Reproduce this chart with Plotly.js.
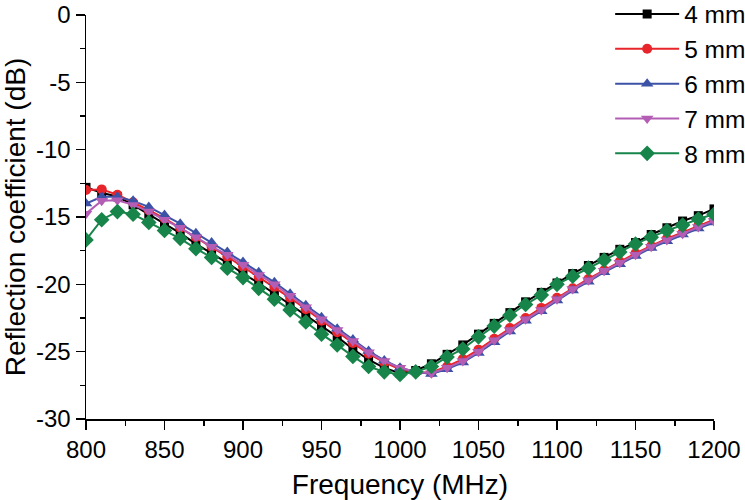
<!DOCTYPE html>
<html>
<head>
<meta charset="utf-8">
<script src="https://cdn.plot.ly/plotly-3.0.1.min.js"></script>
<style>
  body { margin: 0; background: #fff; }
  #chart { width: 745px; height: 500px; }
</style>
</head>
<body>
<div id="chart"></div>
<script>
// series colours
const black = "#000000";
const red = "#E8252A";
const blue = "#3C52A6";
const magenta = "#B45DB4";
const green = "#17844A";

// frequency points (MHz)
const freq = [800, 810, 820, 830, 840, 850, 860, 870, 880, 890,
              900, 910, 920, 930, 940, 950, 960, 970, 980, 990,
              1000, 1010, 1020, 1030, 1040, 1050, 1060, 1070, 1080, 1090,
              1100, 1110, 1120, 1130, 1140, 1150, 1160, 1170, 1180, 1190, 1200];

// reflection coefficient (dB) for each gap
const s4mm = [-12.8, -13.2, -13.5, -14.1, -14.8, -15.5, -16.2, -17.0, -17.7, -18.4,
              -19.2, -19.9, -20.7, -21.5, -22.3, -23.1, -23.9, -24.8, -25.6, -26.2,
              -26.6, -26.4, -25.9, -25.2, -24.5, -23.7, -22.9, -22.1, -21.3, -20.6,
              -19.9, -19.2, -18.6, -18.0, -17.4, -16.9, -16.3, -15.8, -15.3, -14.9, -14.4];
const s5mm = [-13.0, -12.95, -13.35, -13.9, -14.5, -15.1, -15.8, -16.5, -17.2, -17.95,
              -18.7, -19.45, -20.2, -21.0, -21.85, -22.7, -23.55, -24.35, -25.15, -25.8,
              -26.3, -26.55, -26.55, -26.1, -25.55, -24.85, -24.05, -23.25, -22.5, -21.75,
              -21.0, -20.3, -19.6, -18.95, -18.3, -17.7, -17.15, -16.6, -16.15, -15.65, -15.2];
const s6mm = [-14.0, -13.5, -13.5, -13.8, -14.25, -14.85, -15.5, -16.2, -16.9, -17.6,
              -18.35, -19.1, -19.85, -20.7, -21.55, -22.45, -23.3, -24.1, -24.95, -25.65,
              -26.2, -26.5, -26.65, -26.3, -25.8, -25.1, -24.3, -23.5, -22.7, -22.0,
              -21.2, -20.45, -19.8, -19.1, -18.5, -17.9, -17.3, -16.8, -16.3, -15.85, -15.4];
const s7mm = [-14.75, -13.8, -13.75, -14.1, -14.6, -15.2, -15.8, -16.5, -17.2, -17.8,
              -18.55, -19.3, -20.0, -20.85, -21.7, -22.6, -23.4, -24.2, -25.05, -25.7,
              -26.2, -26.5, -26.6, -26.2, -25.7, -25.0, -24.15, -23.4, -22.6, -21.9,
              -21.1, -20.35, -19.7, -19.0, -18.4, -17.8, -17.2, -16.7, -16.25, -15.75, -15.3];
const s8mm = [-16.7, -15.2, -14.6, -14.8, -15.4, -16.0, -16.6, -17.35, -18.0, -18.8,
              -19.5, -20.3, -21.1, -21.9, -22.8, -23.7, -24.5, -25.35, -26.1, -26.5,
              -26.7, -26.5, -26.1, -25.4, -24.8, -23.9, -23.1, -22.3, -21.5, -20.8,
              -20.0, -19.4, -18.8, -18.2, -17.6, -17.0, -16.5, -16.0, -15.6, -15.15, -14.8];

const names = ["4 mm", "5 mm", "6 mm", "7 mm", "8 mm"];

// tick labels (plain hyphen as in the original figure)
const xTicks = [800, 850, 900, 950, 1000, 1050, 1100, 1150, 1200];
const xTickText = ["800", "850", "900", "950", "1000", "1050", "1100", "1150", "1200"];
const yTicks = [0, -5, -10, -15, -20, -25, -30];
const yTickText = ["0", "-5", "-10", "-15", "-20", "-25", "-30"];

function series(y, name, color, symbol, size) {
    return {
        x: freq,
        y: y,
        name: name,
        type: 'scatter',
        mode: 'lines+markers',
        line: {color: color, width: 2},
        marker: {color: color, symbol: symbol, size: size},
        hoverinfo: 'skip'
    };
}

var data = [
    series(s4mm, names[0], black, 'square', 9),
    series(s5mm, names[1], red, 'circle', 10),
    series(s6mm, names[2], blue, 'triangle-up', 11),
    series(s7mm, names[3], magenta, 'triangle-down', 11),
    series(s8mm, names[4], green, 'diamond', 12)
];

var fam = 'Liberation Sans, Arial, sans-serif';
var tickFont = {family: fam, size: 24, color: '#000'};
var titleFont = {family: fam, size: 28, color: '#000'};

var layout = {
    width: 745,
    height: 500,
    margin: {l: 86, r: 31, t: 15, b: 81, autoexpand: false},
    paper_bgcolor: '#fff',
    plot_bgcolor: '#fff',
    font: tickFont,
    showlegend: true,
    legend: {
        xref: 'container',
        yref: 'container',
        x: 0.819,
        y: 0.832,
        xanchor: 'left',
        yanchor: 'middle',
        bgcolor: 'rgba(0,0,0,0)',
        font: {family: fam, size: 24.5, color: '#000'},
        itemwidth: 64
    },
    xaxis: {
        range: [800, 1200],
        tickmode: 'array',
        tickvals: xTicks,
        ticktext: xTickText,
        ticks: 'outside',
        ticklen: 9,
        tickwidth: 1.5,
        tickcolor: '#000',
        showline: true,
        linecolor: '#000',
        linewidth: 1.5,
        showgrid: false,
        zeroline: false,
        tickfont: tickFont,
        ticklabeloverflow: 'allow',
        minor: {dtick: 25, ticks: 'outside', ticklen: 5, tickwidth: 1.5, tickcolor: '#000', showgrid: false},
        title: {text: 'Frequency (MHz)', font: titleFont, standoff: 12}
    },
    yaxis: {
        range: [-30, 0],
        tickmode: 'array',
        tickvals: yTicks,
        ticktext: yTickText,
        ticks: 'outside',
        ticklen: 9,
        tickwidth: 1.5,
        tickcolor: '#000',
        showline: true,
        linecolor: '#000',
        linewidth: 1.5,
        showgrid: false,
        zeroline: false,
        tickfont: tickFont,
        ticklabeloverflow: 'allow',
        minor: {dtick: 2.5, ticks: 'outside', ticklen: 5, tickwidth: 1.5, tickcolor: '#000', showgrid: false},
        title: {text: 'Reflection coefficient (dB)', font: titleFont, standoff: 2}
    }
};

Plotly.newPlot('chart', data, layout, {displayModeBar: false, staticPlot: true});
</script>
</body>
</html>
